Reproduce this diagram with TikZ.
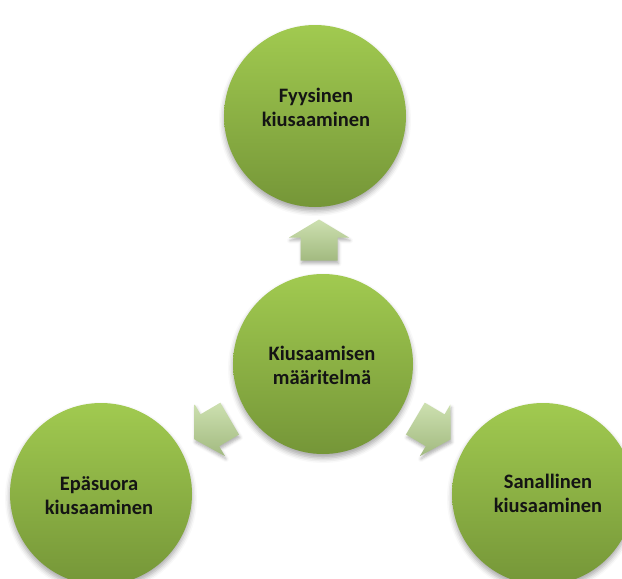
\documentclass[tikz,border=0pt]{standalone}
\usepackage{fontspec}
\setmainfont{Carlito}
\usetikzlibrary{calc,shadows.blur}
\definecolor{gtop}{RGB}{161,202,80}
\definecolor{gbot}{RGB}{117,150,56}
\definecolor{atop}{RGB}{205,224,176}
\definecolor{abot}{RGB}{162,186,128}
\definecolor{txt}{RGB}{20,20,20}
\begin{document}
\begin{tikzpicture}[x=1pt,y=-1pt,
  bubble/.style={circle, minimum size=182pt, inner sep=0pt, draw=none,
    top color=gtop, bottom color=gbot,
    blur shadow={shadow xshift=0pt, shadow yshift=-4pt, shadow blur radius=5pt, shadow opacity=35}},
  lbl/.style={font=\bfseries\fontsize{20.5}{24}\selectfont, align=center, inner sep=0pt, text=txt},
  blockarrow/.style={top color=atop, bottom color=abot, draw=none,
    blur shadow={shadow xshift=1pt, shadow yshift=-3pt, shadow blur radius=3pt, shadow opacity=30}}]
\useasboundingbox (0,0) rectangle (622,579);
\clip (0,0) rectangle (622,579);
% circles
\node[bubble] (t) at (315,116) {};
\node[bubble, minimum size=180pt] (c) at (323,364) {};
\node[bubble] (l) at (101,494) {};
\node[bubble] (r) at (543,494) {};
% labels
\node[lbl] (tl) at (316,107.5) {Fyysinen\\kiusaaminen};
\node[lbl] (cl) at (322,365) {Kiusaamisen\\määritelmä};
\node[lbl] (ll) at (99,495.5) {Epäsuora\\kiusaaminen};
\node[lbl] (rl) at (548,493.5) {Sanallinen\\kiusaaminen};
% block arrows
\foreach \tg/\ang in {t/90, l/210.4, r/-30.6}{
  \begin{scope}[shift={($(c)!0.5!(\tg)$)}, rotate=\ang]
    \path[blockarrow] (-20.5,-18.5) -- (2.5,-18.5) -- (2.5,-30) -- (20.5,0)
      -- (2.5,30) -- (2.5,18.5) -- (-20.5,18.5) -- cycle;
  \end{scope}
}
\end{tikzpicture}
\end{document}
